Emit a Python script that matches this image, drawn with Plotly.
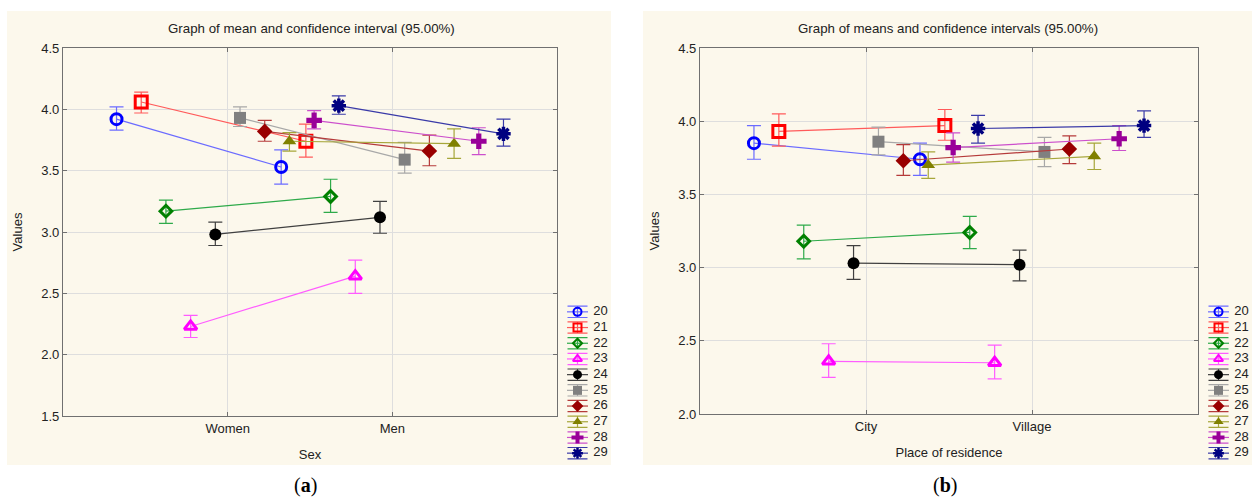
import plotly.graph_objects as go

series = ["20", "21", "22", "23", "24", "25", "26", "27", "28", "29"]

# Panel (a): Sex
sex_cats = ["Women", "Men"]
sex_mean = [
    [3.92, 3.53], [4.06, 3.74], [3.17, 3.29], [2.23, 2.64], [2.98, 3.12],
    [3.93, 3.59], [3.82, 3.66], [3.74, 3.72], [3.91, 3.74], [4.03, 3.80],
]
sex_low = [
    [3.83, 3.39], [3.97, 3.61], [3.07, 3.16], [2.14, 2.50], [2.89, 2.99],
    [3.86, 3.48], [3.74, 3.54], [3.66, 3.60], [3.84, 3.63], [3.96, 3.70],
]
sex_up = [
    [4.02, 3.67], [4.14, 3.88], [3.26, 3.43], [2.32, 2.77], [3.08, 3.25],
    [4.02, 3.73], [3.91, 3.79], [3.81, 3.84], [3.99, 3.85], [4.11, 3.92],
]

# Panel (b): Place of residence
res_cats = ["City", "Village"]
res_mean = [
    [3.85, 3.74], [3.93, 3.97], [3.18, 3.24], [2.36, 2.35], [3.03, 3.02],
    [3.86, 3.79], [3.73, 3.81], [3.70, 3.76], [3.82, 3.88], [3.95, 3.97],
]
res_low = [
    [3.74, 3.63], [3.83, 3.87], [3.06, 3.13], [2.25, 2.24], [2.92, 2.91],
    [3.77, 3.69], [3.63, 3.71], [3.61, 3.67], [3.72, 3.80], [3.85, 3.89],
]
res_up = [
    [3.97, 3.85], [4.05, 4.08], [3.29, 3.35], [2.48, 2.47], [3.15, 3.12],
    [3.96, 3.89], [3.84, 3.90], [3.79, 3.85], [3.92, 3.97], [4.04, 4.07],
]

marker_colors = ["#0000FF", "#FF0000", "#008000", "#FF00FF", "#000000",
                 "#808080", "#990000", "#808000", "#990099", "#000080"]
line_colors = ["#6B6BFF", "#FF5A5A", "#2EAA4A", "#FF5CFF", "#404040",
               "#A8A8A8", "#B53A3A", "#A6A63A", "#CC4FCC", "#3A3AA8"]
symbols = ["circle-open", "square-open", "diamond-open", "triangle-up-open", "circle",
           "square", "diamond", "triangle-up", "cross", "asterisk-open"]
msizes = [11, 12, 9, 11, 12, 12, 12, 12, 13, 12]
mlw = [3, 3, 3, 3, 0, 0, 0, 0, 0, 3.5]
leg_sizes = [8, 8, 7, 8, 9, 9, 9, 9, 10, 9]
leg_lw = [2, 2, 2, 2, 0, 0, 0, 0, 0, 2.5]

fig = go.Figure()

W, H = 1252, 498
def px_x(v):
    return v / W
def px_y(v):
    return 1 - v / H

BEIGE = "#FCF8EC"
FONT = "Liberation Sans, Arial, sans-serif"
TXT = "#222222"

def add_panel(cats, means, lows, ups, xaxis, yaxis):
    n = len(series)
    for k in range(n):
        off = (k - (n - 1) / 2) * 0.15
        xs = [i + 1 + off for i in range(len(cats))]
        m = means[k]
        err_p = [ups[k][i] - m[i] for i in range(len(m))]
        err_m = [m[i] - lows[k][i] for i in range(len(m))]
        fig.add_trace(go.Scatter(
            x=xs, y=m, mode="lines+markers", name=series[k],
            xaxis=xaxis, yaxis=yaxis, showlegend=False,
            line=dict(color=line_colors[k], width=1.2),
            marker=dict(symbol=symbols[k], size=msizes[k], color=marker_colors[k],
                        line=dict(color=marker_colors[k], width=mlw[k])),
            error_y=dict(type="data", symmetric=False, array=err_p, arrayminus=err_m,
                         color=line_colors[k], thickness=1.2, width=7),
            hoverinfo="skip",
        ))

def add_legend(xaxis, yaxis):
    for k in range(len(series)):
        fig.add_trace(go.Scatter(
            x=[0, 1], y=[k, k], mode="lines", xaxis=xaxis, yaxis=yaxis, showlegend=False,
            line=dict(color=line_colors[k], width=1.2), hoverinfo="skip"))
        fig.add_trace(go.Scatter(
            x=[0.5], y=[k], mode="markers", xaxis=xaxis, yaxis=yaxis, showlegend=False,
            marker=dict(symbol=symbols[k], size=leg_sizes[k], color=marker_colors[k],
                        line=dict(color=marker_colors[k], width=leg_lw[k])),
            error_y=dict(type="constant", value=0.36, color=line_colors[k], thickness=1.2, width=10),
            hoverinfo="skip"))
        fig.add_trace(go.Scatter(
            x=[1.25], y=[k], mode="text", text=[series[k]], textposition="middle right",
            xaxis=xaxis, yaxis=yaxis, showlegend=False, cliponaxis=False,
            textfont=dict(family=FONT, size=13, color=TXT), hoverinfo="skip"))

add_panel(sex_cats, sex_mean, sex_low, sex_up, "x", "y")
add_panel(res_cats, res_mean, res_low, res_up, "x2", "y2")
add_legend("x3", "y3")
add_legend("x4", "y4")

axis_common = dict(showline=True, mirror="ticks", linecolor="#707070", linewidth=1.2,
                   showgrid=True, gridcolor="#DEDEDE", gridwidth=1, zeroline=False,
                   ticks="inside", ticklen=4, tickcolor="#707070", automargin=False,
                   tickfont=dict(family=FONT, size=13, color=TXT))
title_font = dict(family=FONT, size=13, color=TXT)
leg_axis = dict(visible=False, fixedrange=True, automargin=False)

fig.update_layout(
    width=W, height=H,
    margin=dict(l=0, r=0, t=0, b=0, pad=0, autoexpand=False),
    paper_bgcolor="white", plot_bgcolor="white",
    showlegend=False,
    xaxis=dict(domain=[px_x(63), px_x(557)], range=[0, 3], tickvals=[1, 2], ticktext=sex_cats,
               title=dict(text="Sex", font=title_font),
               anchor="y", **axis_common),
    yaxis=dict(domain=[px_y(416), px_y(48)], range=[1.5, 4.5], dtick=0.5, tickformat=".1f",
               title=dict(text="Values", font=title_font),
               anchor="x", **axis_common),
    xaxis2=dict(domain=[px_x(700), px_x(1198)], range=[0, 3], tickvals=[1, 2], ticktext=res_cats,
                title=dict(text="Place of residence", font=title_font),
                anchor="y2", **axis_common),
    yaxis2=dict(domain=[px_y(414), px_y(48)], range=[2.0, 4.5], dtick=0.5, tickformat=".1f",
                title=dict(text="Values", font=title_font),
                anchor="x2", **axis_common),
    xaxis3=dict(domain=[px_x(567), px_x(609)], range=[0, 2], anchor="y3", **leg_axis),
    yaxis3=dict(domain=[px_y(461), px_y(304)], range=[9.5, -0.5], anchor="x3", **leg_axis),
    xaxis4=dict(domain=[px_x(1208), px_x(1250)], range=[0, 2], anchor="y4", **leg_axis),
    yaxis4=dict(domain=[px_y(461), px_y(304)], range=[9.5, -0.5], anchor="x4", **leg_axis),
    shapes=[
        dict(type="rect", xref="paper", yref="paper", x0=px_x(7), x1=px_x(611),
             y0=px_y(465), y1=px_y(11), fillcolor=BEIGE, line=dict(width=0), layer="below"),
        dict(type="rect", xref="paper", yref="paper", x0=px_x(643), x1=px_x(1252),
             y0=px_y(465), y1=px_y(11), fillcolor=BEIGE, line=dict(width=0), layer="below"),
    ],
    annotations=[
        dict(text="Graph of mean and confidence interval (95.00%)", xref="paper", yref="paper",
             x=px_x(311), y=px_y(28), showarrow=False, xanchor="center", yanchor="middle",
             font=dict(family=FONT, size=13.3, color=TXT)),
        dict(text="Graph of means and confidence intervals (95.00%)", xref="paper", yref="paper",
             x=px_x(948), y=px_y(28), showarrow=False, xanchor="center", yanchor="middle",
             font=dict(family=FONT, size=13.3, color=TXT)),
        dict(text="(<b>a</b>)", xref="paper", yref="paper", x=px_x(305), y=px_y(485),
             showarrow=False, xanchor="center", yanchor="middle",
             font=dict(family="Liberation Serif, Times New Roman, serif", size=20, color="black")),
        dict(text="(<b>b</b>)", xref="paper", yref="paper", x=px_x(945), y=px_y(485),
             showarrow=False, xanchor="center", yanchor="middle",
             font=dict(family="Liberation Serif, Times New Roman, serif", size=20, color="black")),
    ],
)

fig.write_html("out.html", config={"displayModeBar": False},
               post_script="document.body.style.margin='0';document.body.style.padding='0';")
